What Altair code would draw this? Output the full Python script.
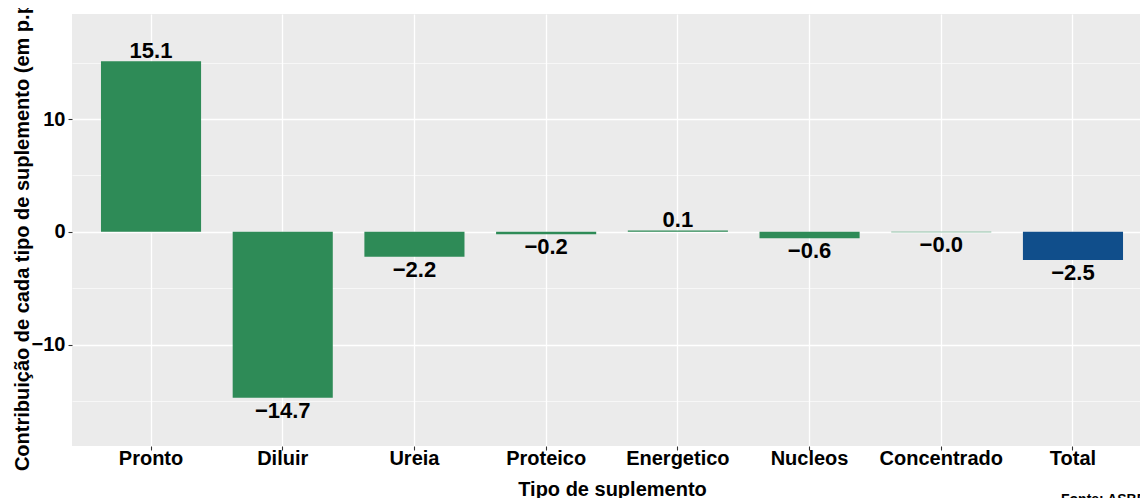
import altair as alt
import pandas as pd

categories = ["Pronto", "Diluir", "Ureia", "Proteico", "Energetico", "Nucleos", "Concentrado", "Total"]
values = [15.12, -14.71, -2.21, -0.22, 0.12, -0.58, -0.045, -2.51]
groups = ["tipo"] * 7 + ["total"]
labels = [f"{v:.1f}".replace("-", "\u2212") for v in values]
y_ticks = [-15, -10, -5, 0, 5, 10, 15]
caption = ["Fonte: ASBRAM"]

df = pd.DataFrame({"cat": categories, "val": values, "grp": groups, "lab": labels})
cap_df = pd.DataFrame({"t": caption})

FONT = "Liberation Sans"
major = "datum.value % 10 === 0"

x_enc = alt.X(
    "cat:N",
    sort=categories,
    scale=alt.Scale(range=[0, 1080], paddingInner=0.24, paddingOuter=0.22),
    axis=alt.Axis(
        title="Tipo de suplemento",
        titleFont=FONT, titleFontSize=20, titleFontWeight="bold", titleColor="black",
        titleX=540, titleY=49, titleBaseline="alphabetic", titleAlign="center",
        labelFont=FONT, labelFontSize=20, labelFontWeight="bold", labelColor="black",
        labelBaseline="alphabetic", labelPadding=14.5, labelAngle=0,
        tickSize=4, tickColor="#333333", tickWidth=1.1,
        domain=False, grid=True, gridColor="white", gridWidth=1.3,
        bandPosition=0.5,
    ),
)

y_enc = alt.Y(
    "val:Q",
    scale=alt.Scale(domain=[-19.0, 19.32], nice=False, zero=False),
    axis=alt.Axis(
        title="Contribuição de cada tipo de suplemento (em p.p.)",
        titleFont=FONT, titleFontSize=20, titleFontWeight="bold", titleColor="black",
        titleX=-44, titleY=216, titleAngle=270, titleBaseline="alphabetic", titleAlign="center",
        values=y_ticks,
        labelExpr="datum.value % 10 === 0 ? datum.label : ''",
        labelFont=FONT, labelFontSize=20, labelFontWeight="bold", labelColor="black",
        labelPadding=3, labelBaseline="middle",
        tickSize=4, tickColor="#333333", tickWidth=1.1,
        tickOpacity={"condition": {"test": major, "value": 1}, "value": 0},
        domain=False, grid=True, gridColor="white",
        gridWidth={"condition": {"test": major, "value": 1.3}, "value": 0.6},
    ),
)

base = alt.Chart(df)

bars = base.mark_bar().encode(
    x=x_enc,
    y=y_enc,
    y2=alt.datum(0),
    color=alt.Color("grp:N", scale=alt.Scale(domain=["tipo", "total"], range=["#2E8B57", "#104E8B"]), legend=None),
)

pos_text = base.transform_filter("datum.val >= 0").mark_text(
    font=FONT, fontSize=22, fontWeight="bold", color="black", baseline="alphabetic", dy=-3
).encode(x=alt.X("cat:N", sort=categories), y="val:Q", text="lab:N")

neg_text = base.transform_filter("datum.val < 0").mark_text(
    font=FONT, fontSize=22, fontWeight="bold", color="black", baseline="alphabetic", dy=20
).encode(x=alt.X("cat:N", sort=categories), y="val:Q", text="lab:N")

cap = alt.Chart(cap_df).mark_text(
    font=FONT, fontSize=14, fontWeight="bold", color="black", align="left", baseline="alphabetic"
).encode(x=alt.value(989), y=alt.value(490), text="t:N")

chart = alt.layer(bars, pos_text, neg_text, cap).properties(
    width=1068, height=432,
    autosize=alt.AutoSizeParams(type="none"),
    padding={"left": 64, "top": 6, "right": 0, "bottom": 52},
    background="white",
).configure_view(fill="#EBEBEB", strokeWidth=0)

chart.save("out.html", embed_options={"renderer": "svg", "actions": False})
